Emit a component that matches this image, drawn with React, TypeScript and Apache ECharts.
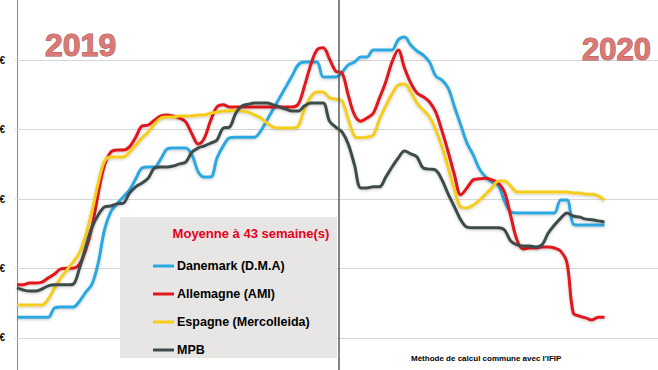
import React, { useEffect, useRef } from 'react';
import * as echarts from 'echarts';

// Weekly prices (€/kg), 2019 week 1 .. 2020 week 43 (index 0..94)
const SERIES_NAMES = ['Danemark (D.M.A)', 'Allemagne (AMI)', 'Espagne (Mercolleida)', 'MPB'];
const SERIES_COLORS = ['#2aa8e0', '#e2171b', '#f7cd1a', '#3d4b4c'];

const DANEMARK = [
  1.260, 1.260, 1.260, 1.260, 1.260, 1.260,
  1.286, 1.289, 1.289, 1.289,
  1.306, 1.332, 1.355, 1.416, 1.511,
  1.563, 1.586, 1.606, 1.626, 1.658,
  1.689, 1.692, 1.692, 1.715, 1.744,
  1.747, 1.747, 1.747, 1.727, 1.678,
  1.663, 1.663, 1.718, 1.753, 1.776,
  1.778, 1.778, 1.778, 1.778, 1.796,
  1.827, 1.859, 1.891, 1.922, 1.954,
  1.986, 1.994, 1.994, 1.994, 1.951,
  1.951, 1.951,
  1.965, 1.986, 1.994, 2.009, 2.009,
  2.029, 2.029, 2.029, 2.029, 2.058,
  2.066, 2.043, 2.026, 2.014, 1.994,
  1.954, 1.942, 1.919, 1.865, 1.813,
  1.761, 1.727, 1.686, 1.663, 1.649,
  1.640, 1.594, 1.563, 1.560, 1.560,
  1.560, 1.560, 1.560, 1.560, 1.560,
  1.597, 1.597, 1.528, 1.525, 1.525,
  1.525, 1.525, 1.525,
];

const ALLEMAGNE = [
  1.353, 1.353, 1.358, 1.358, 1.361, 1.373,
  1.384, 1.399, 1.401, 1.401,
  1.413, 1.453, 1.519, 1.617, 1.698,
  1.735, 1.741, 1.741, 1.750, 1.778,
  1.810, 1.813, 1.827, 1.839, 1.842,
  1.839, 1.833, 1.822, 1.787, 1.758,
  1.776, 1.827, 1.865, 1.871, 1.865,
  1.865, 1.865, 1.865, 1.865, 1.865,
  1.865, 1.865, 1.865, 1.865, 1.865,
  1.873, 1.925, 1.986, 2.029, 2.035,
  2.003, 1.968,
  1.963, 1.899, 1.842, 1.824, 1.833,
  1.847, 1.891, 1.937, 1.994, 2.029,
  1.977, 1.934, 1.905, 1.894, 1.879,
  1.850, 1.796, 1.735, 1.669, 1.612,
  1.632, 1.655, 1.658, 1.660, 1.655,
  1.646, 1.620, 1.551, 1.482, 1.456,
  1.459, 1.459, 1.462, 1.462, 1.459,
  1.450, 1.416, 1.272, 1.263, 1.258,
  1.252, 1.260, 1.260,
];

const ESPAGNE = [
  1.295, 1.295, 1.295, 1.295, 1.295, 1.312,
  1.344, 1.373, 1.396, 1.419,
  1.445, 1.496, 1.565, 1.646, 1.709,
  1.721, 1.721, 1.721, 1.735, 1.755,
  1.776, 1.793, 1.816, 1.833, 1.836,
  1.836, 1.839, 1.839, 1.839, 1.842,
  1.842, 1.847, 1.850, 1.853, 1.853,
  1.856, 1.853, 1.850, 1.842, 1.833,
  1.819, 1.807, 1.804, 1.804, 1.804,
  1.810, 1.859, 1.894, 1.908, 1.908,
  1.891, 1.888,
  1.882, 1.830, 1.781, 1.776, 1.778,
  1.784, 1.830, 1.868, 1.902, 1.928,
  1.931, 1.908, 1.876, 1.856, 1.836,
  1.799, 1.750, 1.689, 1.626, 1.577,
  1.574, 1.583, 1.597, 1.614, 1.632,
  1.652, 1.652, 1.637, 1.620, 1.620,
  1.620, 1.620, 1.620, 1.620, 1.620,
  1.620, 1.620, 1.617, 1.617, 1.614,
  1.614, 1.609, 1.597,
];

const MPB = [
  1.344, 1.338, 1.335, 1.335, 1.341, 1.350,
  1.353, 1.353, 1.353, 1.355,
  1.401, 1.462, 1.519, 1.554, 1.577,
  1.580, 1.586, 1.588, 1.617, 1.635,
  1.646, 1.660, 1.689, 1.692, 1.692,
  1.695, 1.701, 1.706, 1.735, 1.747,
  1.753, 1.761, 1.770, 1.804, 1.807,
  1.847, 1.868, 1.873, 1.876, 1.876,
  1.876, 1.871, 1.865, 1.859, 1.853,
  1.853, 1.868, 1.876, 1.876, 1.876,
  1.824, 1.807,
  1.793, 1.758, 1.698, 1.632, 1.632,
  1.635, 1.635, 1.663, 1.692, 1.718,
  1.738, 1.730, 1.721, 1.689, 1.686,
  1.683, 1.655, 1.614, 1.577, 1.540,
  1.519, 1.517, 1.517, 1.517, 1.517,
  1.517, 1.511, 1.479, 1.468, 1.465,
  1.465, 1.462, 1.468, 1.502, 1.525,
  1.545, 1.560, 1.551, 1.548, 1.542,
  1.540, 1.537, 1.534,
];

const SERIES_VALUES = [DANEMARK, ALLEMAGNE, ESPAGNE, MPB];

// horizontal gridline values (€/kg); their labels are cut off at the left edge, only "€" shows
const GRID_VALUES = [1.2, 1.4, 1.6, 1.8, 2.0];
const GRID_LABEL = '€';

// visible y range of the plot (€/kg)
const Y_AXIS_MIN = 1.1079;
const Y_AXIS_MAX = 2.1727;

// x position (week index) of the 2019 / 2020 boundary
const YEAR_BOUNDARY = 51.5;
const YEAR_LABELS = ['2019', '2020'];
const LEGEND_TITLE = 'Moyenne à 43 semaine(s)';
const NOTE = "Méthode de calcul commune avec l'IFIP";

const FONT = '"Liberation Sans", Arial, sans-serif';

export default function App() {
  const ref = useRef<HTMLDivElement>(null);

  useEffect(() => {
    document.body.style.margin = '0';
    const chart = echarts.init(ref.current as HTMLDivElement, null, { renderer: 'svg' });

    const series: any[] = SERIES_NAMES.map((name, s) => ({
      name,
      type: 'line',
      data: SERIES_VALUES[s].map((v, i) => [i, v]),
      smooth: 0.35,
      showSymbol: false,
      symbol: 'none',
      z: 2 + s,
      lineStyle: {
        color: SERIES_COLORS[s],
        width: 3,
        shadowColor: 'rgba(0,0,0,0.22)',
        shadowBlur: 3,
        shadowOffsetY: 1,
      },
      itemStyle: { color: SERIES_COLORS[s] },
      emphasis: { disabled: true },
    }));

    // horizontal gridlines with their (clipped) "€" labels, behind the data
    series[0].markLine = {
      silent: true,
      z: 1,
      symbol: ['none', 'none'],
      precision: 3,
      label: {
        show: true,
        position: 'start',
        distance: 10,
        formatter: () => GRID_LABEL,
        color: '#111',
        fontWeight: 'bold',
        fontSize: 10,
        fontFamily: FONT,
      },
      lineStyle: { color: '#d6d6d6', width: 1, type: 'solid' },
      emphasis: { disabled: true },
      data: GRID_VALUES.map((v) => ({ yAxis: v })),
    };

    // 2019 / 2020 separator
    series[1].markLine = {
      silent: true,
      z: 6,
      symbol: ['none', 'none'],
      label: { show: false },
      lineStyle: { color: '#5a5a5a', width: 1.5, type: 'solid' },
      emphasis: { disabled: true },
      data: [{ xAxis: YEAR_BOUNDARY }],
    };

    chart.setOption({
      animation: false,
      backgroundColor: '#ffffff',
      grid: { left: 15, right: 0, top: 0, bottom: 0, containLabel: false },
      xAxis: {
        type: 'value',
        min: -0.32,
        max: 102.56,
        show: false,
      },
      yAxis: {
        type: 'value',
        min: Y_AXIS_MIN,
        max: Y_AXIS_MAX,
        axisLine: { show: true, lineStyle: { color: '#8a8a8a', width: 1 } },
        axisTick: { show: false },
        axisLabel: { show: false },
        splitLine: { show: false },
      },
      legend: {
        show: true,
        orient: 'vertical',
        left: 148,
        top: 254,
        z: 30,
        icon: 'rect',
        itemWidth: 21,
        itemHeight: 3,
        itemGap: 14,
        selectedMode: false,
        data: SERIES_NAMES,
        textStyle: {
          color: '#000',
          fontWeight: 'bold',
          fontSize: 12.5,
          fontFamily: FONT,
          lineHeight: 14,
          padding: [0, 0, 0, -2],
        },
      },
      graphic: [
        {
          type: 'rect',
          z: 20,
          shape: { x: 120, y: 217, width: 217, height: 141 },
          style: { fill: '#e8e6e4' },
          silent: true,
        },
        {
          type: 'text',
          z: 21,
          x: 251,
          y: 233,
          style: {
            text: LEGEND_TITLE,
            fill: '#e3001b',
            font: `bold 13px ${FONT}`,
            align: 'center',
            verticalAlign: 'middle',
          },
          silent: true,
        },
        {
          type: 'text',
          z: 21,
          x: 45,
          y: 45,
          style: {
            text: YEAR_LABELS[0],
            fill: '#d97a76',
            stroke: '#a85450',
            lineWidth: 1,
            font: `bold 32px ${FONT}`,
            align: 'left',
            verticalAlign: 'middle',
          },
          silent: true,
        },
        {
          type: 'text',
          z: 21,
          x: 582,
          y: 49,
          style: {
            text: YEAR_LABELS[1],
            fill: '#d97a76',
            stroke: '#a85450',
            lineWidth: 1,
            font: `bold 31px ${FONT}`,
            align: 'left',
            verticalAlign: 'middle',
          },
          silent: true,
        },
        {
          type: 'text',
          z: 21,
          x: 411,
          y: 358,
          style: {
            text: NOTE,
            fill: '#000',
            font: `bold 8px ${FONT}`,
            align: 'left',
            verticalAlign: 'middle',
          },
          silent: true,
        },
      ],
      series,
    });

    return () => chart.dispose();
  }, []);

  return (
    <div
      ref={ref}
      style={{ position: 'fixed', left: 0, top: 0, width: 658, height: 370, background: '#fff' }}
    />
  );
}
